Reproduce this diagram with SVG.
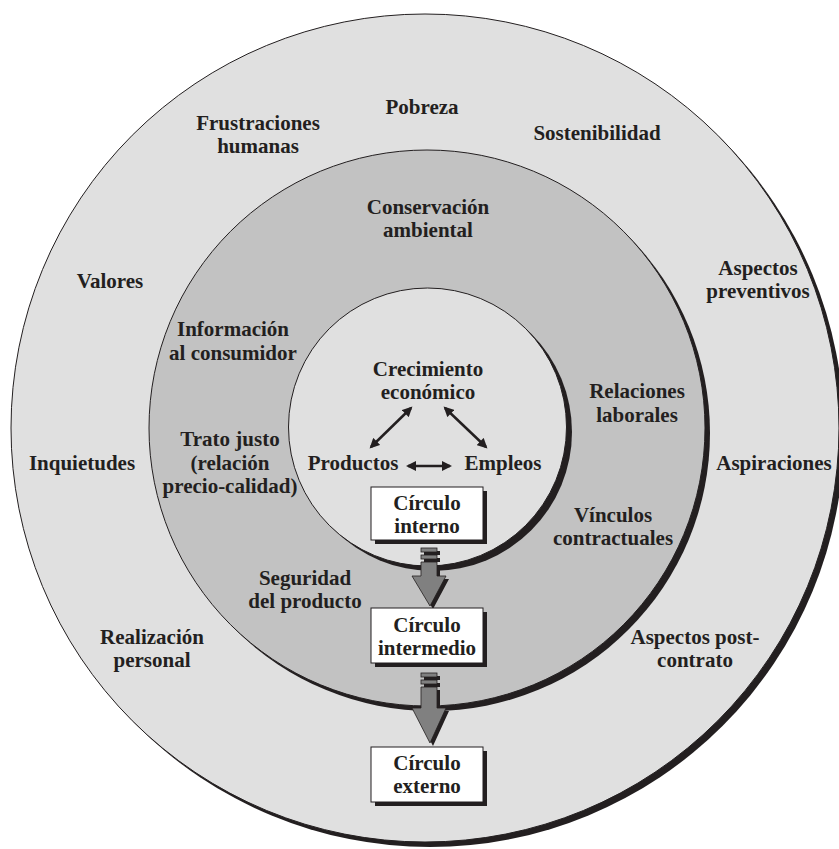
<svg xmlns="http://www.w3.org/2000/svg" width="839" height="849" viewBox="0 0 839 849">
<defs>
<style>
.t{font-family:"Liberation Serif","Times New Roman",serif;font-weight:bold;font-size:21px;fill:#231f20;text-anchor:middle}
.sh{fill:#231f20}
.ring{stroke:#231f20;stroke-width:1}
.box{fill:#ffffff;stroke:#231f20;stroke-width:1}
.ar{fill:#808080;stroke:#231f20;stroke-width:0.8}
.ln{stroke:#231f20;stroke-width:2.5;fill:none}
</style>
<marker id="ah" viewBox="0 0 10 10" refX="8" refY="5" markerWidth="4.4" markerHeight="4" orient="auto-start-reverse" markerUnits="strokeWidth">
<path d="M0,0 L10,5 L0,10 Z" fill="#231f20"/>
</marker>
</defs>
<rect width="839" height="849" fill="#ffffff"/>

<g id="outer">
<circle class="sh" cx="430" cy="433" r="414"/>
<circle class="ring" cx="425" cy="428" r="414" fill="#e0e0e0"/>
</g>
<g id="middle">
<circle class="sh" cx="432" cy="433" r="278"/>
<circle class="ring" cx="427" cy="428" r="278" fill="#c2c2c2"/>
</g>
<g id="inner">
<circle class="sh" cx="433" cy="432" r="139"/>
<circle class="ring" cx="427.5" cy="427" r="139" fill="#e0e0e0"/>
</g>

<g id="outer-labels">
<text class="t" x="422" y="114">Pobreza</text>
<text class="t" x="258" y="130">Frustraciones</text>
<text class="t" x="258" y="153">humanas</text>
<text class="t" x="597" y="140">Sostenibilidad</text>
<text class="t" x="110" y="288">Valores</text>
<text class="t" x="758" y="275">Aspectos</text>
<text class="t" x="758" y="298">preventivos</text>
<text class="t" x="82" y="470">Inquietudes</text>
<text class="t" x="774" y="470">Aspiraciones</text>
<text class="t" x="152" y="644">Realización</text>
<text class="t" x="152" y="667">personal</text>
<text class="t" x="695" y="644">Aspectos post-</text>
<text class="t" x="695" y="667">contrato</text>
</g>

<g id="middle-labels">
<text class="t" x="428" y="214">Conservación</text>
<text class="t" x="428" y="237">ambiental</text>
<text class="t" x="233" y="336">Información</text>
<text class="t" x="233" y="360">al consumidor</text>
<text class="t" x="637" y="398">Relaciones</text>
<text class="t" x="637" y="422">laborales</text>
<text class="t" x="230" y="446">Trato justo</text>
<text class="t" x="230" y="470">(relación</text>
<text class="t" x="230" y="493">precio-calidad)</text>
<text class="t" x="613" y="522">Vínculos</text>
<text class="t" x="613" y="545">contractuales</text>
<text class="t" x="305" y="585">Seguridad</text>
<text class="t" x="305" y="608">del producto</text>
</g>

<g id="inner-labels">
<text class="t" x="428" y="376">Crecimiento</text>
<text class="t" x="428" y="399">económico</text>
<text class="t" x="353" y="470">Productos</text>
<text class="t" x="503" y="470">Empleos</text>
</g>

<g id="connectors">
<line class="ln" x1="411" y1="408" x2="371" y2="447" marker-start="url(#ah)" marker-end="url(#ah)"/>
<line class="ln" x1="445" y1="408" x2="486" y2="447" marker-start="url(#ah)" marker-end="url(#ah)"/>
<line class="ln" x1="408" y1="466" x2="450" y2="466" marker-start="url(#ah)" marker-end="url(#ah)"/>

<g id="arrow1">
<g transform="translate(3,3)" class="sh">
<rect x="421" y="548" width="16" height="4"/>
<rect x="421" y="555" width="16" height="4"/>
<path d="M421,562 H437 V576 H446 L430,606 L412,576 H421 Z"/>
</g>
<rect class="ar" x="421" y="548" width="16" height="4"/>
<rect class="ar" x="421" y="555" width="16" height="4"/>
<path class="ar" d="M421,562 H437 V576 H446 L430,606 L412,576 H421 Z"/>
</g>
<g id="arrow2">
<g transform="translate(3,3)" class="sh">
<rect x="421" y="673" width="16" height="4"/>
<rect x="421" y="680" width="16" height="4"/>
<path d="M421,687 H437 V708 H446 L430,743 L412,708 H421 Z"/>
</g>
<rect class="ar" x="421" y="673" width="16" height="4"/>
<rect class="ar" x="421" y="680" width="16" height="4"/>
<path class="ar" d="M421,687 H437 V708 H446 L430,743 L412,708 H421 Z"/>
</g>
</g>

<g id="box-interno">
<rect class="sh" x="375" y="491" width="112" height="53"/>
<rect class="box" x="371" y="487" width="112" height="53"/>
<text class="t" x="427" y="510">Círculo</text>
<text class="t" x="427" y="533">interno</text>
</g>
<g id="box-intermedio">
<rect class="sh" x="375" y="612" width="112" height="55"/>
<rect class="box" x="371" y="608" width="112" height="55"/>
<text class="t" x="427" y="632">Círculo</text>
<text class="t" x="427" y="655">intermedio</text>
</g>
<g id="box-externo">
<rect class="sh" x="375" y="751" width="112" height="55"/>
<rect class="box" x="371" y="747" width="112" height="55"/>
<text class="t" x="427" y="770">Círculo</text>
<text class="t" x="427" y="793">externo</text>
</g>
</svg>
